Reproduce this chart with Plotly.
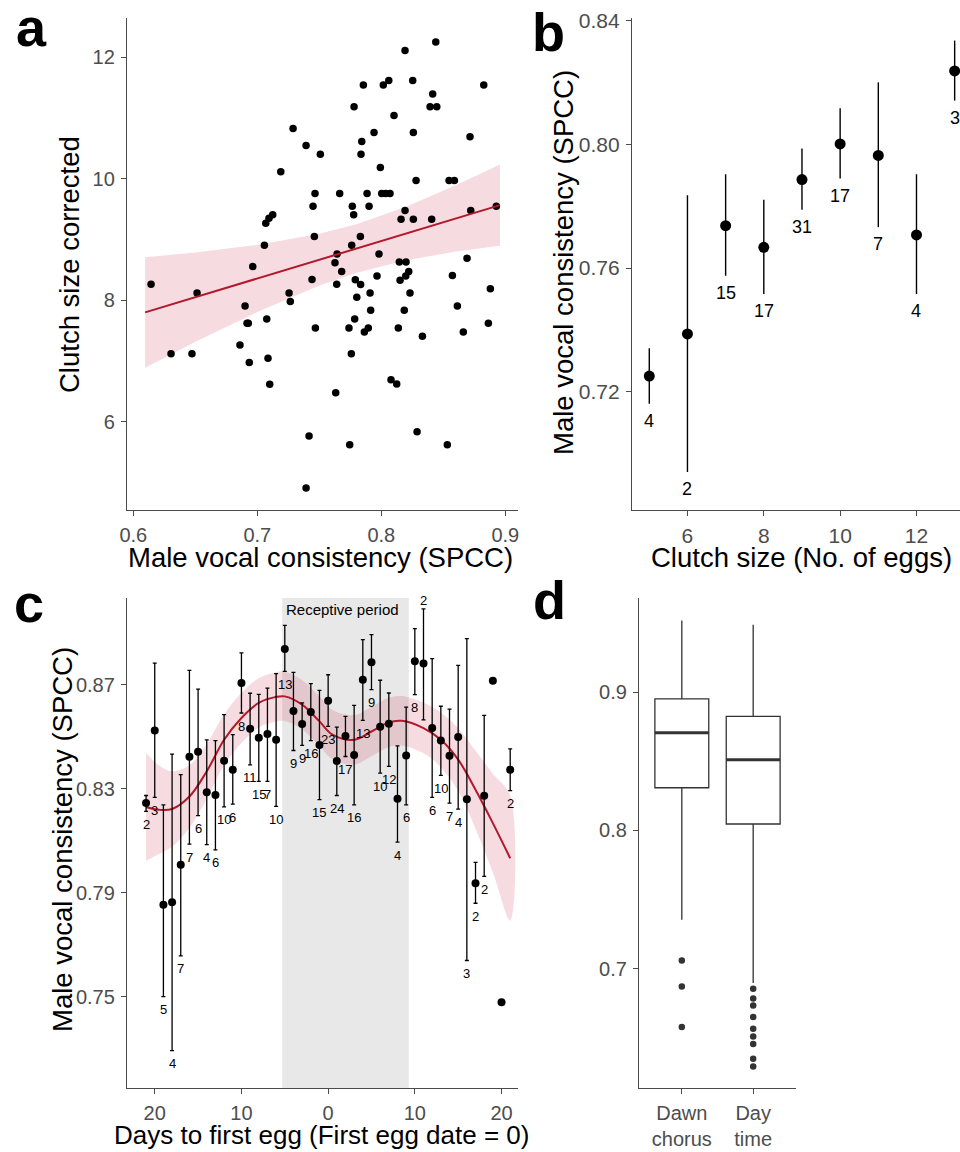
import plotly.graph_objects as go

# ---------------- Panel a data ----------------
a_x = [0.8439, 0.8191, 0.7855, 0.8016, 0.8060, 0.8253, 0.8826, 0.8414, 0.8393, 0.8447,
       0.7780, 0.8102, 0.7288, 0.7941, 0.8258, 0.8715, 0.7393, 0.7842, 0.7508, 0.7836,
       0.7189, 0.7992, 0.8280, 0.8546, 0.8589, 0.7465, 0.7664, 0.7885, 0.8003, 0.8035,
       0.8070, 0.7449, 0.7766, 0.7901, 0.7777, 0.7124, 0.7094, 0.7068, 0.8191, 0.8159,
       0.8258, 0.8406, 0.8721, 0.8927, 0.7460, 0.7831, 0.7761, 0.7057, 0.7643, 0.7981,
       0.8691, 0.7626, 0.8145, 0.8199, 0.6963, 0.7680, 0.6143, 0.6514, 0.7441, 0.7640,
       0.7790, 0.7833, 0.7965, 0.8221, 0.8197, 0.8151, 0.8573, 0.8879, 0.7256, 0.7266,
       0.7802, 0.7909, 0.8231, 0.7914, 0.8185, 0.8613, 0.6901, 0.6917, 0.6927, 0.7076,
       0.7468, 0.7739, 0.7785, 0.7863, 0.7895, 0.8137, 0.8331, 0.8661, 0.8863, 0.6304,
       0.6473, 0.6860, 0.6935, 0.7086, 0.7758, 0.7100, 0.8078, 0.8124, 0.7632, 0.7417,
       0.7745, 0.8288, 0.8532, 0.7393]
a_y = [12.253, 12.115, 11.545, 11.545, 11.620, 11.620, 11.545, 11.400, 11.187, 11.187,
       11.187, 11.044, 10.830, 10.764, 10.764, 10.693, 10.550, 10.615, 10.407, 10.407,
       10.116, 10.187, 9.972, 9.972, 9.972, 9.758, 9.758, 9.758, 9.758, 9.758,
       9.758, 9.550, 9.550, 9.550, 9.407, 9.407, 9.352, 9.270, 9.478, 9.336,
       9.336, 9.336, 9.478, 9.550, 9.049, 9.049, 8.907, 8.907, 8.764, 8.764,
       8.693, 8.620, 8.630, 8.630, 8.555, 8.473, 8.265, 8.121, 8.341, 8.265,
       8.336, 8.259, 8.400, 8.473, 8.400, 8.330, 8.407, 8.190, 8.121, 7.978,
       8.050, 8.121, 8.121, 7.836, 7.836, 7.907, 7.907, 7.622, 7.622, 7.693,
       7.544, 7.544, 7.693, 7.478, 7.544, 7.544, 7.407, 7.478, 7.622, 7.121,
       7.121, 7.264, 6.973, 7.045, 7.121, 6.616, 6.692, 6.621, 6.478, 5.764,
       5.621, 5.835, 5.621, 4.907]
# fitted line and confidence band
a_fit_x = [0.6095, 0.65, 0.70, 0.75, 0.78, 0.82, 0.86, 0.8957]
a_fit_y = [7.80, 8.05, 8.359, 8.668, 8.853, 9.10, 9.348, 9.567]
a_fit_hi = [8.71, 8.785, 8.912, 9.094, 9.253, 9.54, 9.894, 10.237]
a_fit_lo = [6.89, 7.315, 7.806, 8.242, 8.453, 8.66, 8.802, 8.897]

# ---------------- Panel b data ----------------
b_clutch = [5, 6, 7, 8, 9, 10, 11, 12, 13]
b_mean = [0.7251, 0.7387, 0.7737, 0.7667, 0.7886, 0.8001, 0.7964, 0.7707, 0.8237]
b_lo = [0.7161, 0.6941, 0.7575, 0.7516, 0.7788, 0.7889, 0.7732, 0.7516, 0.8141]
b_hi = [0.7341, 0.7835, 0.7903, 0.7821, 0.7986, 0.8116, 0.8200, 0.7903, 0.8335]
b_n = [4, 2, 15, 17, 31, 17, 7, 4, 3]

# ---------------- Panel c data ----------------
c_day = list(range(-21, 22))
c_mean = [0.8245, 0.8524, 0.7854, 0.7864, 0.8008, 0.8423, 0.8442, 0.8287, 0.8276, 0.8408,
          0.8373, 0.8706, 0.8531, 0.8496, 0.8510, 0.8488, 0.8837, 0.8599, 0.8549, 0.8595,
          0.8468, 0.8638, 0.8407, 0.8503, 0.8430, 0.8719, 0.8786, 0.8538, 0.8550, 0.8262,
          0.8428, 0.8790, 0.8781, 0.8533, 0.8485, 0.8427, 0.8499, 0.8260, 0.7937, 0.8273,
          0.8715, 0.7480, 0.8373]
c_lo = [0.8213, 0.8267, 0.7501, 0.7294, 0.7658, 0.8087, 0.8197, 0.8085, 0.8065, 0.8230,
        0.8241, 0.8591, 0.8392, 0.8328, 0.8328, 0.8232, 0.8751, 0.8447, 0.8467, 0.8485,
        0.8258, 0.8540, 0.8274, 0.8424, 0.8238, 0.8563, 0.8681, 0.8360, 0.8386, 0.8095,
        0.8238, 0.8662, 0.8565, 0.8267, 0.8351, 0.8245, 0.8222, 0.7640, 0.7860, 0.7963,
        None, None, 0.8293]
c_hi = [0.8274, 0.8783, 0.8238, 0.8433, 0.8354, 0.8755, 0.8683, 0.8488, 0.8485, 0.8585,
        0.8508, 0.8822, 0.8667, 0.8663, 0.8687, 0.8742, 0.8928, 0.8747, 0.8630, 0.8704,
        0.8678, 0.8738, 0.8537, 0.8578, 0.8620, 0.8873, 0.8892, 0.8717, 0.8668, 0.8465,
        0.8614, 0.8915, 0.8991, 0.8800, 0.8617, 0.8606, 0.8774, 0.8877, 0.8017, 0.8582,
        None, None, 0.8453]
c_n = [2, 3, 5, 4, 7, 7, 6, 4, 6, 10, 6, 8, 11, 15, 7, 10, 13, 9, 9, 16, 15, 23, 24, 17,
       16, 13, 9, 10, 12, 4, 6, 8, 2, 6, 10, 7, 4, 3, 2, 2, 1, 1, 2]
c_smooth_day = [-21, -19.5, -18, -16, -14, -12, -10, -8, -6, -5, -3, -1, 0.5, 3, 5, 7, 8.5,
                11, 13, 15, 17, 19, 21]
c_smooth = [0.8230, 0.8219, 0.8222, 0.8270, 0.8367, 0.8488, 0.8572, 0.8630, 0.8653, 0.8655,
            0.8623, 0.8559, 0.8508, 0.8488, 0.8520, 0.8555, 0.8561, 0.8533, 0.8488, 0.8412,
            0.8296, 0.8168, 0.8033]
c_smooth_se = [0.0207, 0.0170, 0.0145, 0.0120, 0.0105, 0.0098, 0.0096, 0.0095, 0.0095, 0.0095,
               0.0095, 0.0095, 0.0095, 0.0095, 0.0095, 0.0095, 0.0095, 0.0097, 0.0105, 0.0120,
               0.0150, 0.0190, 0.0240]
receptive_start, receptive_end = -5.3, 9.3
c_tickvals = [-20, -10, 0, 10, 20]
c_ticktext = ["20", "10", "0", "10", "20"]

# ---------------- Panel d data ----------------
d_groups = ["Dawn<br>chorus", "Day<br>time"]
d_q1 = [0.8308, 0.8046]
d_median = [0.8706, 0.8510]
d_q3 = [0.8951, 0.8824]
d_lowerfence = [0.7354, 0.6896]
d_upperfence = [0.9518, 0.9487]
d_outliers = [[0.7059, 0.6871, 0.6578],
              [0.6854, 0.6784, 0.6733, 0.6650, 0.6565, 0.6510, 0.6455, 0.6349, 0.6293]]

# ---------------- styling ----------------
FONT = "Liberation Sans, Arial, Helvetica, sans-serif"
W, H = 960, 1152
RED = "#B2182B"
BAND = "rgba(200,30,60,0.16)"
AXC = "#4a4a4a"
TICKC = "#4D4D4D"


def px_x(p):
    return p / W


def px_y(p):
    return 1 - p / H


fig = go.Figure()

# Panel a
fig.add_trace(go.Scatter(x=a_fit_x + a_fit_x[::-1], y=a_fit_hi + a_fit_lo[::-1], fill="toself",
                         fillcolor=BAND, line=dict(width=0), mode="lines", hoverinfo="skip",
                         xaxis="x", yaxis="y", showlegend=False))
fig.add_trace(go.Scatter(x=a_x, y=a_y, mode="markers", marker=dict(color="black", size=7.5),
                         xaxis="x", yaxis="y", showlegend=False))
fig.add_trace(go.Scatter(x=a_fit_x, y=a_fit_y, mode="lines", line=dict(color=RED, width=2),
                         xaxis="x", yaxis="y", showlegend=False))

# Panel b
fig.add_trace(go.Scatter(
    x=b_clutch, y=b_mean, mode="markers", marker=dict(color="black", size=11),
    error_y=dict(type="data", symmetric=False,
                 array=[h - m for h, m in zip(b_hi, b_mean)],
                 arrayminus=[m - l for m, l in zip(b_mean, b_lo)],
                 color="black", thickness=1.4, width=0),
    xaxis="x2", yaxis="y2", showlegend=False, cliponaxis=False))

annotations = []
for c, lo, n in zip(b_clutch, b_lo, b_n):
    annotations.append(dict(x=c, y=lo, xref="x2", yref="y2", text=str(n), showarrow=False,
                            yshift=-17, font=dict(size=18, color="black", family=FONT)))

# Panel c
fig.add_shape(type="rect", xref="x3", yref="y3 domain", x0=receptive_start, x1=receptive_end,
              y0=0, y1=1, fillcolor="#E8E8E8", line=dict(width=0), layer="below")
fig.add_trace(go.Scatter(
    x=c_smooth_day + c_smooth_day[::-1],
    y=[m + s for m, s in zip(c_smooth, c_smooth_se)] + [m - s for m, s in zip(c_smooth, c_smooth_se)][::-1],
    fill="toself", fillcolor=BAND, line=dict(width=0, shape="spline"), mode="lines",
    hoverinfo="skip", xaxis="x3", yaxis="y3", showlegend=False))
fig.add_trace(go.Scatter(x=c_smooth_day, y=c_smooth, mode="lines",
                         line=dict(color=RED, width=2, shape="spline"),
                         xaxis="x3", yaxis="y3", showlegend=False))
err_plus = [(h - m) if h is not None else 0 for h, m in zip(c_hi, c_mean)]
err_minus = [(m - l) if l is not None else 0 for l, m in zip(c_lo, c_mean)]
vis = [l is not None for l in c_lo]
fig.add_trace(go.Scatter(
    x=[d for d, v in zip(c_day, vis) if v], y=[m for m, v in zip(c_mean, vis) if v],
    mode="markers", marker=dict(color="black", size=8),
    error_y=dict(type="data", symmetric=False,
                 array=[e for e, v in zip(err_plus, vis) if v],
                 arrayminus=[e for e, v in zip(err_minus, vis) if v],
                 color="black", thickness=1.3, width=2),
    xaxis="x3", yaxis="y3", showlegend=False))
fig.add_trace(go.Scatter(
    x=[d for d, v in zip(c_day, vis) if not v], y=[m for m, v in zip(c_mean, vis) if not v],
    mode="markers", marker=dict(color="black", size=8),
    xaxis="x3", yaxis="y3", showlegend=False))

label_above = {11}
for d, lo, hi, n in zip(c_day, c_lo, c_hi, c_n):
    if lo is None:
        continue
    if d in label_above:
        annotations.append(dict(x=d, y=hi, xref="x3", yref="y3", text=str(n), showarrow=False,
                                yshift=8, font=dict(size=13, color="black", family=FONT)))
    else:
        annotations.append(dict(x=d, y=lo, xref="x3", yref="y3", text=str(n), showarrow=False,
                                yshift=-13, font=dict(size=13, color="black", family=FONT)))
annotations.append(dict(x=receptive_start, y=1, xref="x3", yref="y3 domain", text="Receptive period",
                        showarrow=False, xanchor="left", yanchor="top", xshift=2, yshift=-1,
                        font=dict(size=15, color="black", family=FONT)))

# Panel d
for i in range(len(d_groups)):
    fig.add_trace(go.Box(x=[i], q1=[d_q1[i]], median=[d_median[i]], q3=[d_q3[i]],
                         lowerfence=[d_lowerfence[i]], upperfence=[d_upperfence[i]],
                         width=0.755, fillcolor="white", line=dict(color="#333333", width=1.3),
                         whiskerwidth=0, boxpoints=False, xaxis="x4", yaxis="y4",
                         showlegend=False, hoverinfo="skip"))
    fig.add_trace(go.Scatter(x=[i - 0.3775, i + 0.3775], y=[d_median[i]] * 2, mode="lines",
                             line=dict(color="#333333", width=3), xaxis="x4", yaxis="y4",
                             showlegend=False))
    fig.add_trace(go.Scatter(x=[i] * len(d_outliers[i]), y=d_outliers[i], mode="markers",
                             marker=dict(color="#333333", size=6.5), xaxis="x4", yaxis="y4",
                             showlegend=False))

axis_common = dict(showline=True, linecolor=AXC, linewidth=1.3, ticks="outside", ticklen=5,
                   tickwidth=1.2, tickcolor=AXC, showgrid=False, zeroline=False,
                   automargin=False, ticklabelstandoff=2,
                   tickfont=dict(size=20, color=TICKC, family=FONT))
axis_b = dict(axis_common, tickfont=dict(size=21, color=TICKC, family=FONT))

fig.update_layout(
    width=W, height=H, margin=dict(l=0, r=0, t=0, b=0, autoexpand=False),
    plot_bgcolor="white", paper_bgcolor="white",
    font=dict(family=FONT, color="black"),
    xaxis=dict(domain=[px_x(127), px_x(518)], range=[0.5949, 0.9102], anchor="y",
               tickvals=[0.6, 0.7, 0.8, 0.9], ticktext=["0.6", "0.7", "0.8", "0.9"], **axis_common),
    yaxis=dict(domain=[px_y(510), px_y(18)], range=[4.545, 12.65], anchor="x",
               tickvals=[6, 8, 10, 12], **axis_common),
    xaxis2=dict(domain=[px_x(632), 1.0], range=[4.547, 13.14], anchor="y2",
                tickvals=[6, 8, 10, 12], **axis_b),
    yaxis2=dict(domain=[px_y(510), px_y(18)], range=[0.6818, 0.8408], anchor="x2",
                tickvals=[0.72, 0.76, 0.80, 0.84], ticktext=["0.72", "0.76", "0.80", "0.84"],
                **axis_b),
    xaxis3=dict(domain=[px_x(127), px_x(518)], range=[-23.2, 21.9], anchor="y3",
                tickvals=c_tickvals, ticktext=c_ticktext, **axis_common),
    yaxis3=dict(domain=[px_y(1088), px_y(598)], range=[0.715, 0.9033], anchor="x3",
                tickvals=[0.75, 0.79, 0.83, 0.87], ticktext=["0.75", "0.79", "0.83", "0.87"],
                **axis_common),
    xaxis4=dict(domain=[px_x(639), px_x(796)], range=[-0.6, 1.6], anchor="y4",
                tickvals=[0, 1], ticktext=d_groups, **axis_common),
    yaxis4=dict(domain=[px_y(1088), px_y(598)], range=[0.6137, 0.968], anchor="x4",
                tickvals=[0.7, 0.8, 0.9], **axis_common),
)

titles = [
    ("Male vocal consistency (SPCC)", 320, 557, 0, 27.5),
    ("Clutch size corrected", 69, 265, -90, 27.5),
    ("Clutch size (No. of eggs)", 801, 557, 0, 27.5),
    ("Male vocal consistency (SPCC)", 563, 263, -90, 27.5),
    ("Days to first egg (First egg date = 0)", 321, 1135, 0, 26),
    ("Male vocal consistency (SPCC)", 62, 840, -90, 27.5),
]
for text, x, y, ang, fs in titles:
    annotations.append(dict(x=px_x(x), y=px_y(y), xref="paper", yref="paper", text=text,
                            showarrow=False, textangle=ang, xanchor="center", yanchor="middle",
                            font=dict(size=fs, color="black", family=FONT)))
for letter, x, y in [("a", 31, 27), ("b", 548, 32), ("c", 29, 603), ("d", 549, 600)]:
    annotations.append(dict(x=px_x(x), y=px_y(y), xref="paper", yref="paper",
                            text="<b>%s</b>" % letter, showarrow=False, xanchor="center",
                            yanchor="middle", font=dict(size=54, color="black", family=FONT)))

fig.update_layout(annotations=annotations)
fig.write_html("out.html", config={"displayModeBar": False},
               post_script="document.body.style.margin='0';document.body.style.overflow='hidden';")
